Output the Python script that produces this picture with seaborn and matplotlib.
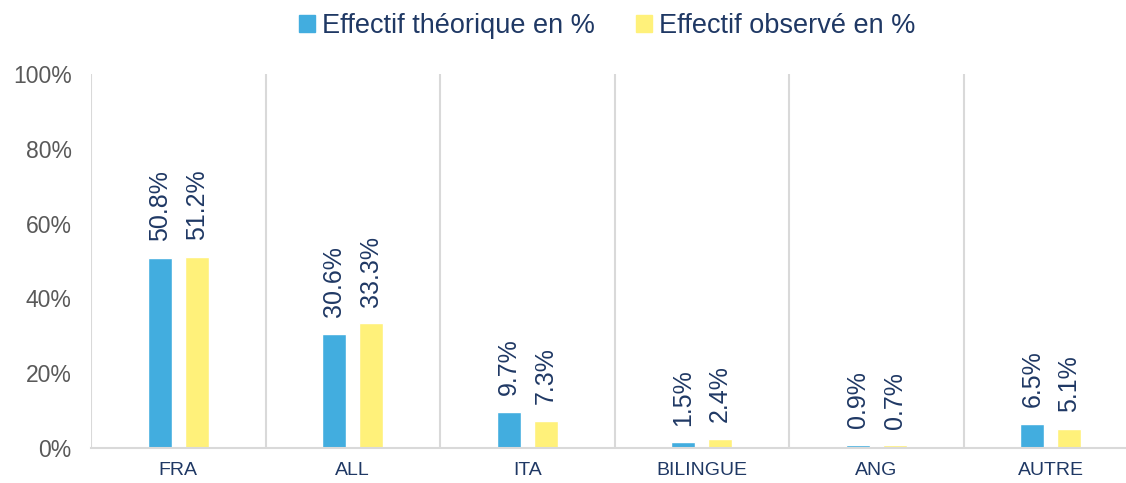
import pandas as pd
import seaborn as sns
import matplotlib.pyplot as plt

categories = ['FRA', 'ALL', 'ITA', 'BILINGUE', 'ANG', 'AUTRE']
theorique = [50.8, 30.6, 9.7, 1.5, 0.9, 6.5]
observe = [51.2, 33.3, 7.3, 2.4, 0.7, 5.1]
series = ['Effectif théorique en %', 'Effectif observé en %']
colors = ['#42ADDF', '#FFF17A']
navy = '#1F3864'
gray = '#595959'

df = pd.DataFrame({
    'cat': categories * 2,
    'val': theorique + observe,
    'serie': [series[0]] * len(categories) + [series[1]] * len(categories),
})

sns.set_style('white')
plt.rcParams['font.family'] = ['Liberation Sans', 'DejaVu Sans']

fig = plt.figure(figsize=(11.26, 4.83), dpi=100)
ax = fig.add_axes([91 / 1126, 1 - 448 / 483, 1047 / 1126, 374 / 483])

sns.barplot(data=df, x='cat', y='val', hue='serie', palette=colors,
            width=0.424, gap=0.35, saturation=1, ax=ax, legend=False)

for cont in ax.containers:
    for bar, v in zip(cont, cont.datavalues):
        ax.annotate(f'{v:.1f}%', (bar.get_x() + bar.get_width() / 2, bar.get_height()),
                    xytext=(0, 12), textcoords='offset points', rotation=90,
                    ha='center', va='bottom', fontsize=18, color=navy)

ax.set_xlim(-0.5, len(categories) - 0.5)
ax.set_ylim(0, 100)
ax.set_yticks(range(0, 101, 20))
ax.set_yticklabels([f'{t}%' for t in range(0, 101, 20)], fontsize=16.5, color=gray)
ax.set_xticklabels(categories, fontsize=14, color=navy)
ax.tick_params(axis='both', length=0)
ax.tick_params(axis='x', pad=10)
ax.tick_params(axis='y', pad=14)
ax.set_xlabel('')
ax.set_ylabel('')

for i in range(len(categories)):
    ax.axvline(i - 0.5, color='#D9D9D9', lw=1.5, zorder=0)
for s in ['top', 'right', 'left']:
    ax.spines[s].set_visible(False)
ax.spines['bottom'].set_color('#D9D9D9')
ax.spines['bottom'].set_linewidth(1.5)

handles = [plt.Rectangle((0, 0), 1, 1, color=c) for c in colors]
leg = fig.legend(handles, series, loc='center', bbox_to_anchor=(607 / 1126, 1 - 26 / 483),
                 ncol=2, frameon=False, fontsize=19.5, handlelength=0.6, handleheight=0.6,
                 handletextpad=0.25, columnspacing=1.5)
for t in leg.get_texts():
    t.set_color(navy)

fig.savefig('out.png', dpi=100)
